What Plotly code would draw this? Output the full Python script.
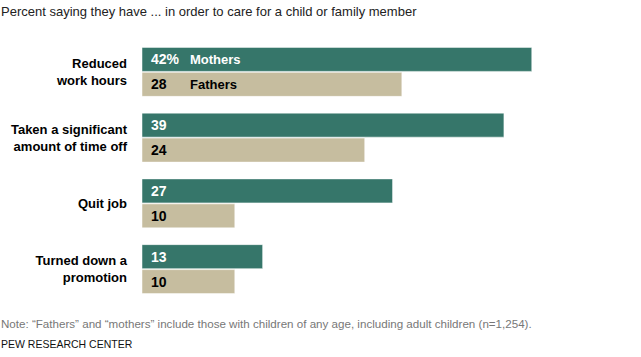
import plotly.graph_objects as go

categories = ["Reduced<br>work hours", "Taken a significant<br>amount of time off", "Quit job", "Turned down a<br>promotion"]
mothers = [42, 39, 27, 13]
fathers = [28, 24, 10, 10]
mother_labels = ["42%", "39", "27", "13"]
father_labels = ["28", "24", "10", "10"]

TEAL = "#36766A"
TAN = "#C6BD9F"
FONT = "Liberation Sans, Arial, sans-serif"

W, H = 641, 357
L, R, T, B = 142, 34.5, 39, 55
PW = W - L - R
PH = H - T - B

def px_x(x):
    return (x - L) / PW

def px_y(y):
    return (H - B - y) / PH

fig = go.Figure()
fig.add_trace(go.Bar(y=categories, x=mothers, orientation="h", name="Mothers",
                     marker=dict(color=TEAL, line=dict(color="white", width=0.5)), hoverinfo="skip"))
fig.add_trace(go.Bar(y=categories, x=fathers, orientation="h", name="Fathers",
                     marker=dict(color=TAN, line=dict(color="white", width=0.5)), hoverinfo="skip"))

ann = []
for c, m, f, ml, fl in zip(categories, mothers, fathers, mother_labels, father_labels):
    ann.append(dict(x=0, y=c, xref="x", yref="y", text=f"<b>{ml}</b>", showarrow=False,
                    xanchor="left", xshift=7, yshift=12.5, font=dict(family=FONT, size=14, color="white")))
    ann.append(dict(x=0, y=c, xref="x", yref="y", text=f"<b>{fl}</b>", showarrow=False,
                    xanchor="left", xshift=7, yshift=-12.5, font=dict(family=FONT, size=14, color="black")))

ann.append(dict(x=(188 - L) / PW * 50, y=categories[0], xref="x", yref="y", text="<b>Mothers</b>", showarrow=False,
                xanchor="left", yshift=12.5, font=dict(family=FONT, size=13, color="white")))
ann.append(dict(x=(188 - L) / PW * 50, y=categories[0], xref="x", yref="y", text="<b>Fathers</b>", showarrow=False,
                xanchor="left", yshift=-12.5, font=dict(family=FONT, size=13, color="black")))

ann.append(dict(x=px_x(0), y=px_y(12), xref="paper", yref="paper", xanchor="left", yanchor="middle", xshift=-1,
                text="Percent saying they have ... in order to care for a child or family member", showarrow=False,
                font=dict(family=FONT, size=13, color="#222")))
ann.append(dict(x=px_x(0), y=px_y(323), xref="paper", yref="paper", xanchor="left", yanchor="middle", xshift=-1,
                text="Note: \u201cFathers\u201d and \u201cmothers\u201d include those with children of any age, including adult children (n=1,254).",
                showarrow=False, font=dict(family=FONT, size=11.6, color="#777")))
ann.append(dict(x=px_x(0), y=px_y(344), xref="paper", yref="paper", xanchor="left", yanchor="middle", xshift=-1,
                text="PEW RESEARCH CENTER", showarrow=False, font=dict(family=FONT, size=10.5, color="#111")))

fig.update_layout(
    width=W, height=H, margin=dict(l=L, r=R, t=T, b=B),
    barmode="group", bargap=0.24, bargroupgap=0.04,
    plot_bgcolor="white", paper_bgcolor="white", showlegend=False,
    xaxis=dict(range=[0, 50], visible=False, fixedrange=True, automargin=False),
    yaxis=dict(autorange="reversed", showgrid=False, zeroline=False, showline=False, ticks="", automargin=False,
               ticklabelstandoff=14, tickfont=dict(family=FONT, size=13, color="black", weight="bold")),
    annotations=ann,
)

fig.write_html("out.html", config={"displayModeBar": False},
               post_script="document.body.style.margin='0';")
